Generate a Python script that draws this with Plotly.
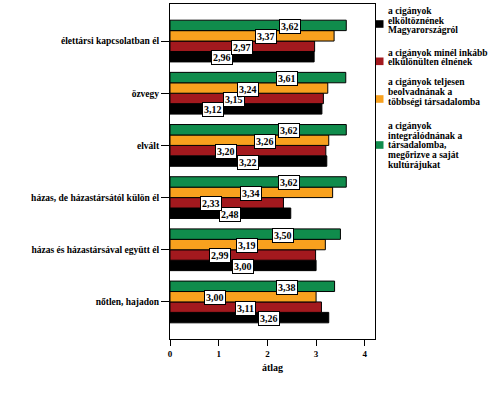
import plotly.graph_objects as go

# ---- data ----
categories = [
    "élettársi kapcsolatban él",
    "özvegy",
    "elvált",
    "házas, de házastársától külön él",
    "házas és házastársával együtt él",
    "nőtlen, hajadon",
]
series_names = [
    "a cigányok elköltöznének Magyarországról",
    "a cigányok minél inkább elkülönülten élnének",
    "a cigányok teljesen beolvadnának a többségi társadalomba",
    "a cigányok integrálódnának a társadalomba, megőrizve a saját kultúrájukat",
]
black_vals = [2.96, 3.12, 3.22, 2.48, 3.00, 3.26]
red_vals = [2.97, 3.15, 3.20, 2.33, 2.99, 3.11]
orange_vals = [3.37, 3.24, 3.26, 3.34, 3.19, 3.00]
green_vals = [3.62, 3.61, 3.62, 3.62, 3.50, 3.38]
value_labels = {
    "black": ["2,96", "3,12", "3,22", "2,48", "3,00", "3,26"],
    "red": ["2,97", "3,15", "3,20", "2,33", "2,99", "3,11"],
    "orange": ["3,37", "3,24", "3,26", "3,34", "3,19", "3,00"],
    "green": ["3,62", "3,61", "3,62", "3,62", "3,50", "3,38"],
}
x_ticks = [0, 1, 2, 3, 4]
x_title = "átlag"

# label box placement along the bars (x, data units) - layout only
label_pos = {
    "green": [2.46, 2.41, 2.44, 2.44, 2.33, 2.40],
    "orange": [1.98, 1.61, 1.95, 1.66, 1.58, 0.93],
    "red": [1.47, 1.31, 1.15, 0.84, 1.03, 1.55],
    "black": [1.07, 0.89, 1.60, 1.23, 1.49, 2.03],
}

legend_lines = [
    ["a cigányok", "elköltöznének", "Magyarországról"],
    ["a cigányok minél inkább", "elkülönülten élnének"],
    ["a cigányok teljesen", "beolvadnának a", "többségi társadalomba"],
    ["a cigányok", "integrálódnának a", "társadalomba,", "megőrizve a saját", "kultúrájukat"],
]

# ---- style ----
colors = {"black": "#000000", "red": "#A3191E", "orange": "#F8A11E", "green": "#108C4C"}
FONT = "Liberation Serif"
W, H = 500, 393
ML, MR, MT, MB = 170, 125, 4, 54
PW, PH = W - ML - MR, H - MT - MB

n = len(categories)
ypos = [n - 1 - i for i in range(n)]  # top category at top

fig = go.Figure()
order = [("black", black_vals), ("red", red_vals), ("orange", orange_vals), ("green", green_vals)]
for k, (key, vals) in enumerate(order):
    fig.add_trace(go.Bar(
        x=vals, y=ypos, orientation="h", name=series_names[k],
        marker=dict(color=colors[key], line=dict(color="black", width=1)),
        hoverinfo="skip",
    ))

offsets = {"black": -0.3, "red": -0.1, "orange": 0.1, "green": 0.3}
annotations = []
for key, _ in order:
    for i in range(n):
        annotations.append(dict(
            x=label_pos[key][i], y=ypos[i] + offsets[key], xref="x", yref="y",
            text=value_labels[key][i], showarrow=False, yshift=-1,
            font=dict(family=FONT, size=10, color="black", weight="bold"),
            bgcolor="white", bordercolor="black", borderwidth=1, borderpad=1,
        ))

def px_x(px):
    return (px - ML) / PW

def px_y(py):
    return (H - MB - py) / PH

# custom legend
line_y = [[11, 20.5, 30], [52.5, 62.5], [82, 92, 102], [126, 135.5, 145, 155, 165]]
square_y = [24, 61.3, 99, 145]
leg_colors = ["black", "red", "orange", "green"]
shapes = []
for j in range(4):
    for t, ly in zip(legend_lines[j], line_y[j]):
        annotations.append(dict(
            x=px_x(386), y=px_y(ly), xref="paper", yref="paper", xanchor="left", yanchor="middle",
            text=t, showarrow=False,
            font=dict(family=FONT, size=9.5, color="black", weight="bold"),
        ))
    shapes.append(dict(
        type="rect", xref="paper", yref="paper",
        x0=px_x(376), x1=px_x(383.5), y0=px_y(square_y[j] + 3.8), y1=px_y(square_y[j] - 3.8),
        fillcolor=colors[leg_colors[j]], line=dict(width=0),
    ))

fig.update_layout(
    width=W, height=H,
    margin=dict(l=ML, r=MR, t=MT, b=MB, autoexpand=False),
    barmode="group", bargap=0.2, bargroupgap=0,
    plot_bgcolor="white", paper_bgcolor="white",
    showlegend=False,
    annotations=annotations, shapes=shapes,
    font=dict(family=FONT, size=9.5, color="black"),
)
fig.update_xaxes(
    automargin=False,
    range=[0, 4.21], tickvals=x_ticks, ticktext=[str(v) for v in x_ticks],
    ticks="outside", ticklen=6, tickcolor="black", tickwidth=1,
    showline=True, mirror=True, linecolor="black", linewidth=1,
    showgrid=False, zeroline=False,
    tickfont=dict(family=FONT, size=9, weight="bold"),
    title=dict(text=x_title, font=dict(family=FONT, size=10, weight="bold"), standoff=6),
)
fig.update_yaxes(
    automargin=False,
    range=[-0.71, n - 1 + 0.71], tickvals=ypos, ticktext=categories,
    ticks="outside", ticklen=8, tickcolor="black", tickwidth=1,
    showline=True, mirror=True, linecolor="black", linewidth=1,
    showgrid=False, zeroline=False,
    tickfont=dict(family=FONT, size=9.5, weight="bold"),
)

fig.write_html("out.html", config={"displayModeBar": False},
               post_script="document.body.style.margin='0px';")
